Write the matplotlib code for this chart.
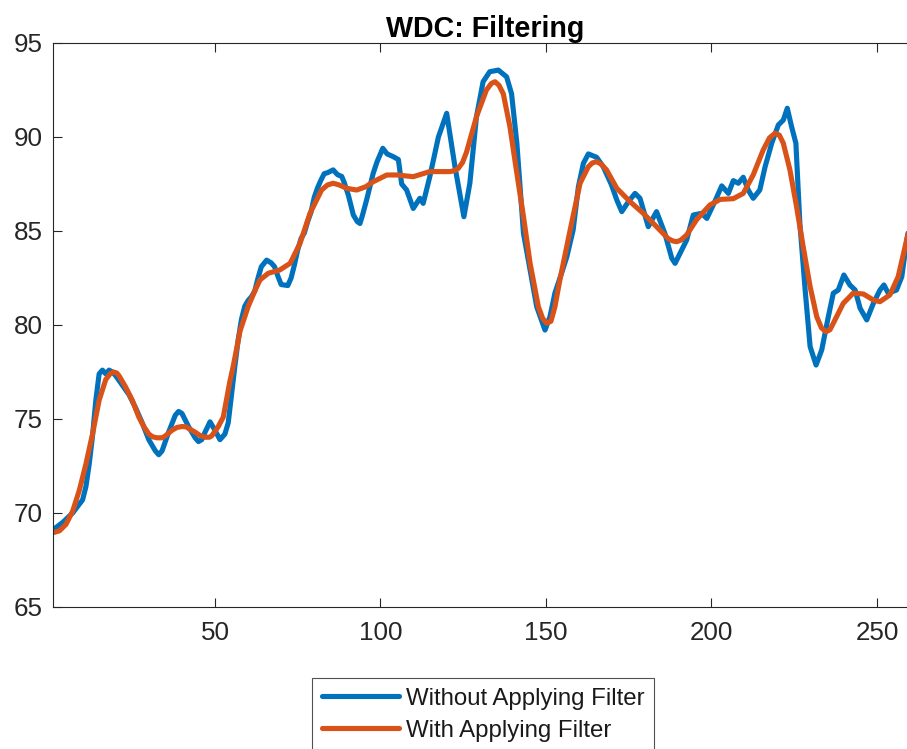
import matplotlib
matplotlib.use("Agg")
import matplotlib.pyplot as plt

plt.rcParams['font.family'] = ['Liberation Sans', 'DejaVu Sans']

# Raw closing values (day index, value)
raw_x = [1, 4, 7, 10, 11, 12, 13, 14, 15, 16, 17, 18, 19, 20, 22, 24, 26, 28, 30, 32, 33, 34,
         36, 38, 39, 40, 42, 44, 45, 46, 47, 48.5, 50, 51.5, 53, 54, 55, 56, 57, 58, 59, 60,
         61, 62, 63, 64, 65.6, 67, 68, 69, 70, 72, 73, 74, 75, 76, 77, 78, 79, 80, 81, 82,
         83, 84, 85.7, 87, 88.3, 89, 90.3, 91.8, 93, 93.8, 94.5, 95.8, 97.8, 99, 100.7, 102,
         103.9, 105.4, 106.4, 107.9, 109.9, 111.9, 112.9, 114.9, 117.5, 120, 122.5, 125.2,
         127, 129, 131, 133, 135.6, 138.1, 139.6, 141.2, 143.2, 145.2, 147.2, 149.7, 151.2,
         152.7, 154.7, 156.3, 158.2, 159.8, 161.3, 162.8, 165.3, 167.3, 169.8, 171.4, 172.9,
         174.9, 176.9, 178.4, 180.9, 183.4, 185.9, 188, 189, 191, 192.5, 194.5, 197, 198.6,
         201, 203.1, 205.1, 206.6, 208.1, 209.6, 211.1, 212.6, 214.6, 216.2, 218.2, 220.2,
         221.7, 222.9, 224.2, 225.5, 226.7, 228.3, 229.8, 231.6, 233.3, 235.3, 236.8, 238.3,
         240, 241.8, 243.4, 244.9, 246.9, 248.9, 250.9, 252.1, 253.4, 255.9, 257.5, 259,
         260.5, 262]
raw_y = [69.1, 69.5, 70.0, 70.7, 71.4, 72.6, 74.1, 76.0, 77.4, 77.6, 77.4, 77.6, 77.5, 77.3,
         76.8, 76.3, 75.6, 74.8, 73.9, 73.3, 73.1, 73.3, 74.3, 75.2, 75.4, 75.3, 74.6, 74.0,
         73.8, 73.9, 74.3, 74.85, 74.4, 73.9, 74.2, 74.8, 76.3, 77.8, 79.2, 80.3, 81.0, 81.3,
         81.5, 81.8, 82.5, 83.1, 83.45, 83.3, 83.1, 82.6, 82.15, 82.1, 82.5, 83.2, 84.0, 84.6,
         84.9, 85.5, 86.0, 86.8, 87.3, 87.7, 88.05, 88.1, 88.25, 88.0, 87.9, 87.6, 86.9, 85.85,
         85.5, 85.4, 85.8, 86.65, 88.07, 88.7, 89.4, 89.1, 88.95, 88.8, 87.5, 87.18, 86.2,
         86.74, 86.47, 87.89, 90.0, 91.26, 88.42, 85.76, 87.54, 91.08, 92.94, 93.47, 93.56,
         93.2, 92.3, 89.67, 84.88, 82.93, 80.97, 79.73, 80.44, 81.7, 82.75, 83.63, 85.05,
         87.36, 88.6, 89.1, 88.92, 88.42, 87.45, 86.65, 86.03, 86.56, 87.0, 86.74, 85.23,
         86.03, 84.88, 83.55, 83.28, 83.99, 84.52, 85.85, 85.94, 85.67, 86.56, 87.4, 87.0,
         87.68, 87.54, 87.86, 87.18, 86.74, 87.18, 88.42, 89.67, 90.64, 90.9, 91.53, 90.55,
         89.67, 85.41, 81.86, 78.85, 77.87, 78.67, 80.44, 81.69, 81.86, 82.66, 82.13, 81.86,
         80.89, 80.27, 81.15, 81.86, 82.13, 81.69, 81.86, 82.57, 84.52, 86.0, 87.0]

# Filtered values
flt_x = [1, 3, 5, 7, 9, 11, 13, 15, 17, 18.3, 19.3, 20.3, 21, 23, 25, 27, 28.5, 30, 31.2, 32.5,
         34, 35, 37, 38.5, 40, 41.3, 42, 44, 45.5, 47, 48.3, 49, 51, 52.5, 54.5, 55.5, 57.6,
         60, 62, 63.6, 66.1, 69.6, 72.7, 75.7, 78.7, 82.2, 84, 85.7, 87.5, 89.8, 92.8, 95.5,
         97.8, 101.9, 104.9, 109.9, 114.9, 118, 121, 122.5, 123.5, 124.8, 126, 129, 132,
         133.5, 134.6, 135.8, 137.1, 139.1, 141.2, 143.2, 145.2, 147.7, 149, 150.2, 151.5,
         152.7, 154.2, 157.3, 160.3, 162.8, 164, 165.3, 166.7, 168.3, 171.4, 175.4, 179.4,
         183.4, 186.9, 188.3, 189.5, 190.8, 192.5, 195.5, 199.5, 202.6, 206.6, 209.6, 212.6,
         215.6, 217.5, 219.2, 220.5, 221.7, 223.7, 225.7, 227.7, 229.8, 231.8, 233.2, 234.6,
         235.8, 236.8, 239.8, 242.8, 245.9, 248.9, 250.9, 253.9, 256.4, 258.5, 260, 262]
flt_y = [68.95, 69.05, 69.4, 70.1, 71.2, 72.6, 74.2, 76.0, 77.1, 77.4, 77.5, 77.45, 77.3, 76.7,
         76.0, 75.1, 74.6, 74.2, 74.05, 74.0, 74.0, 74.1, 74.4, 74.55, 74.6, 74.58, 74.5, 74.3,
         74.12, 74.03, 74.03, 74.1, 74.6, 75.1, 77.0, 77.8, 79.7, 80.97, 81.8, 82.4, 82.75,
         82.93, 83.28, 84.35, 85.94, 87.18, 87.45, 87.54, 87.45, 87.27, 87.18, 87.35, 87.62,
         87.98, 87.98, 87.89, 88.16, 88.16, 88.16, 88.22, 88.33, 88.65, 89.2, 91.08, 92.5,
         92.85, 92.94, 92.75, 92.3, 90.55, 88.07, 85.76, 83.28, 80.97, 80.35, 80.09, 80.2,
         80.97, 82.4, 85.05, 87.54, 88.42, 88.62, 88.69, 88.55, 88.25, 87.27, 86.56, 85.94,
         85.23, 84.6, 84.47, 84.43, 84.52, 84.79, 85.6, 86.38, 86.68, 86.72, 87.0, 87.98,
         89.3, 89.95, 90.2, 90.1, 89.67, 88.25, 86.3, 84.17, 82.04, 80.44, 79.85, 79.64,
         79.75, 80.09, 81.15, 81.69, 81.65, 81.33, 81.24, 81.6, 82.57, 84.17, 85.3, 86.5]

x_ticks = [50, 100, 150, 200, 250]
y_ticks = [65, 70, 75, 80, 85, 90, 95]
series_labels = ['Without Applying Filter', 'With Applying Filter']
title_text = 'WDC: Filtering'

axis_color = '#262626'
fig = plt.figure(figsize=(9.07, 7.49), dpi=100)
ax = fig.add_axes([52.8 / 907, (749 - 607) / 749, (916.7 - 52.8) / 907, 564 / 749])

l1, = ax.plot(raw_x, raw_y, color='#0072BD', lw=3.7, solid_joinstyle='round',
              solid_capstyle='round')
l2, = ax.plot(flt_x, flt_y, color='#D95319', lw=3.7, solid_joinstyle='round',
              solid_capstyle='round')

ax.set_xlim(1, 262)
ax.set_ylim(65, 95)
ax.set_xticks(x_ticks)
ax.set_yticks(y_ticks)
ax.tick_params(axis='both', which='both', direction='in', length=6.5, width=0.8,
               colors=axis_color, labelsize=18.7, top=True, right=True)
ax.tick_params(axis='y', pad=7.5)
ax.tick_params(axis='x', pad=10)
for s in ax.spines.values():
    s.set_color(axis_color)
    s.set_linewidth(0.8)

ax.set_title(title_text, fontsize=20.6, fontweight='bold', color='black', pad=4)

leg = fig.legend([l1, l2], series_labels, loc='upper center',
                 bbox_to_anchor=(483 / 907, 1 - 678 / 749), fontsize=17.3,
                 frameon=True, fancybox=False, shadow=False, borderaxespad=0,
                 handlelength=3.2, handletextpad=0.3, borderpad=0.4, labelspacing=0.42)
leg.get_frame().set_edgecolor(axis_color)
leg.get_frame().set_linewidth(0.8)
for t in leg.get_texts():
    t.set_color('#1a1a1a')

fig.savefig('out.png', dpi=100)
